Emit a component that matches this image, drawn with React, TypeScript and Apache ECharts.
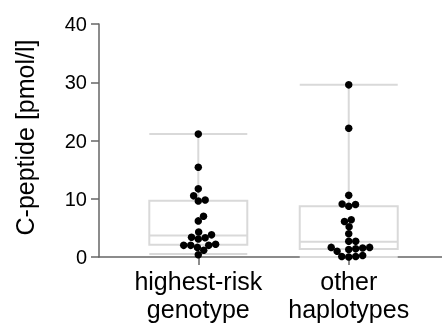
import React, { useEffect, useRef } from "react";
import * as echarts from "echarts";

const categories = ["highest-risk\ngenotype", "other\nhaplotypes"];
const groupPositions = [1, 2];
const yTicks = [0, 10, 20, 30, 40];

// box stats: [min, Q1, median, Q3, max]
const boxHighestRisk = [0.5, 2.1, 3.7, 9.66, 21.1];
const boxOther = [0.0, 1.37, 2.6, 8.7, 29.55];

const pointsHighestRisk = [21.1, 15.4, 11.7, 10.5, 9.6, 9.8, 7.0, 6.2, 4.3, 3.4, 3.1, 3.3, 3.8, 2.0, 2.0, 1.65, 2.0, 2.2, 1.15, 0.4];
const pointsOther = [29.55, 22.1, 10.6, 9.0, 8.7, 9.1, 6.4, 5.2, 6.1, 4.0, 2.7, 2.7, 1.65, 1.3, 1.0, 1.4, 1.55, 1.65, 0.1, 0.0, 0.1, 0.25];

const FONT = "'Liberation Sans', Arial, sans-serif";

function swarm(ys: number[], d: number): number[] {
  const order = ys.map((_, i) => i).sort((a, b) => ys[b] - ys[a]);
  const placed: { x: number; y: number }[] = [];
  const xs = new Array(ys.length).fill(0);
  for (const i of order) {
    const y = ys[i];
    const near = placed.filter((p) => Math.abs(p.y - y) < d);
    const cands = [0];
    for (const p of near) {
      const dx = Math.sqrt(d * d - (p.y - y) * (p.y - y));
      cands.push(p.x + dx, p.x - dx);
    }
    cands.sort((a, b) => Math.abs(a) - Math.abs(b));
    const x =
      cands.find((c) => near.every((p) => (p.x - c) * (p.x - c) + (p.y - y) * (p.y - y) >= d * d - 1e-6)) ?? 0;
    placed.push({ x, y });
    xs[i] = x;
  }
  return xs;
}

export default function App() {
  const ref = useRef<HTMLDivElement>(null);
  useEffect(() => {
    if (!ref.current) return;
    const chart = echarts.init(ref.current, null, { renderer: "svg" });
    const groups = [pointsHighestRisk, pointsOther];
    const option: any = {
      animation: false,
      grid: { left: 99, right: 0, top: 24, bottom: 65.7 },
      xAxis: {
        type: "value",
        min: 0.34,
        max: 2.62,
        splitLine: { show: false },
        axisLine: { show: true, lineStyle: { color: "#666", width: 1.5 } },
        axisTick: { show: true, customValues: groupPositions, length: 8, lineStyle: { color: "#666", width: 1.5 } },
        axisLabel: {
          customValues: groupPositions,
          formatter: (v: number) => categories[Math.round(v) - 1] ?? "",
          fontFamily: FONT,
          fontSize: 25,
          lineHeight: 28,
          color: "#000",
          margin: 10,
        },
      },
      yAxis: {
        type: "value",
        min: 0,
        max: 40,
        interval: 10,
        name: "C-peptide [pmol/l]",
        nameLocation: "middle",
        nameGap: 62,
        nameTextStyle: { fontFamily: FONT, fontSize: 25, color: "#000", padding: [0, 0, 0, 6] },
        splitLine: { show: false },
        axisLine: { show: true, lineStyle: { color: "#666", width: 1.5 } },
        axisTick: { show: true, length: 8, lineStyle: { color: "#666", width: 1.5 } },
        axisLabel: {
          fontFamily: FONT,
          fontSize: 20,
          color: "#000",
          margin: 12,
          formatter: (v: number) => (yTicks.includes(v) ? String(v) : ""),
        },
      },
      series: [
        {
          type: "boxplot",
          data: [
            [groupPositions[0], ...boxHighestRisk],
            [groupPositions[1], ...boxOther],
          ],
          boxWidth: [98, 98],
          itemStyle: { color: "rgba(255,255,255,0)", borderColor: "#d9d9d9", borderWidth: 2 },
          z: 1,
        },
        {
          type: "scatter",
          symbolSize: 7.5,
          itemStyle: { color: "#000", opacity: 1 },
          data: groups.flatMap((g, gi) => g.map((v) => [groupPositions[gi], v])),
          z: 5,
        },
      ],
    };
    chart.setOption(option);
    try {
      const p1 = chart.convertToPixel({ gridIndex: 0 }, [1, 0]) as number[];
      const p2 = chart.convertToPixel({ gridIndex: 0 }, [2, 0]) as number[];
      const pxPerUnit = p2[0] - p1[0];
      const data: number[][] = [];
      groups.forEach((g, gi) => {
        const ys = g.map((v) => (chart.convertToPixel({ gridIndex: 0 }, [groupPositions[gi], v]) as number[])[1]);
        const xs = swarm(ys, 7);
        g.forEach((v, i) => data.push([groupPositions[gi] + xs[i] / pxPerUnit, v]));
      });
      chart.setOption({ series: [{}, { data }] });
    } catch (e) {
      // keep centered points
    }
    return () => chart.dispose();
  }, []);
  return <div ref={ref} style={{ position: "fixed", left: 0, top: 0, width: 442, height: 323 }} />;
}
